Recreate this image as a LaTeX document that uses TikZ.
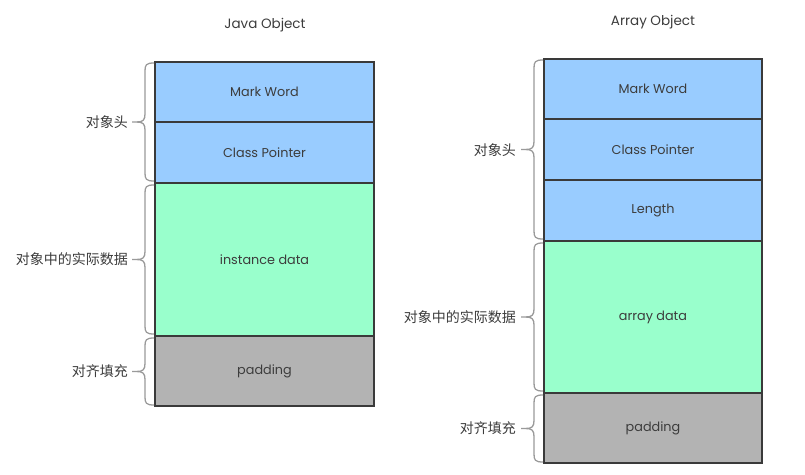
\documentclass[tikz,border=0pt]{standalone}
\usepackage{fontspec}
\setmainfont{Poppins}
\newfontfamily\cjk{Noto Sans CJK SC}
\definecolor{hdrblue}{HTML}{99CCFF}
\definecolor{datagreen}{HTML}{99FFCC}
\definecolor{padgray}{HTML}{B3B3B3}
\definecolor{edgegray}{HTML}{3A3A3A}
\definecolor{txtgray}{HTML}{3C3C3C}
\definecolor{bracegray}{HTML}{9A9A9A}
\newcommand\objbrace[3]{%
  \draw[bracestyle] (#3,#1) .. controls ({#3-8},#1) and ({#3-9},{#1+2}) .. ({#3-9},{#1+8})
     -- ({#3-9},{(#1+#2)/2-8}) .. controls ({#3-9},{(#1+#2)/2-2}) and ({#3-11},{(#1+#2)/2}) .. ({#3-17},{(#1+#2)/2}) -- ({#3-22},{(#1+#2)/2});
  \draw[bracestyle] ({#3-17},{(#1+#2)/2}) .. controls ({#3-11},{(#1+#2)/2}) and ({#3-9},{(#1+#2)/2+2}) .. ({#3-9},{(#1+#2)/2+8})
     -- ({#3-9},{#2-8}) .. controls ({#3-9},{#2-2}) and ({#3-8},#2) .. (#3,#2);}
\begin{document}
\begin{tikzpicture}[x=1pt,y=-1pt,
  cell/.style={draw=edgegray, line width=1.6pt, inner sep=0pt, outer sep=0pt,
    text=txtgray, font=\fontsize{12.8}{14}\selectfont},
  hdr/.style={cell, fill=hdrblue},
  dat/.style={cell, fill=datagreen},
  pad/.style={cell, fill=padgray},
  lbl/.style={anchor=east, text=txtgray, inner sep=0pt, font=\cjk\fontsize{14}{16}\selectfont},
  ttl/.style={text=txtgray, inner sep=0pt, font=\fontsize{13.5}{15}\selectfont},
  bracestyle/.style={draw=bracegray, line width=1.3pt}]
\useasboundingbox (0,0) rectangle (805,474);
% left: Java Object
\node[ttl] (t1) at (265,25) {Java Object};
\node[hdr, minimum width=219pt, minimum height=60pt] (mw1) at (264.5,92) {Mark Word};
\node[hdr, minimum width=219pt, minimum height=61pt] (cp1) at (264.5,152.5) {Class Pointer};
\node[dat, minimum width=219pt, minimum height=153pt] (id1) at (264.5,259.5) {instance data};
\node[pad, minimum width=219pt, minimum height=70pt] (pd1) at (264.5,371) {padding};
\objbrace{63}{181}{154}
\objbrace{185}{334}{154}
\objbrace{338}{405}{154}
\node[lbl] (l1) at (128,122) {对象头};
\node[lbl] (l2) at (128,259.5) {对象中的实际数据};
\node[lbl] (l3) at (128,371) {对齐填充};
% right: Array Object
\node[ttl] (t2) at (653,22) {Array Object};
\node[hdr, minimum width=218pt, minimum height=60pt] (mw2) at (653,89) {Mark Word};
\node[hdr, minimum width=218pt, minimum height=61pt] (cp2) at (653,149.5) {Class Pointer};
\node[hdr, minimum width=218pt, minimum height=61pt] (ln2) at (653,210.5) {Length};
\node[dat, minimum width=218pt, minimum height=152pt] (ad2) at (653,317) {array data};
\node[pad, minimum width=218pt, minimum height=70pt] (pd2) at (653,428) {padding};
\objbrace{60}{239}{543}
\objbrace{243}{391}{543}
\objbrace{395}{462}{543}
\node[lbl] (r1) at (516,150) {对象头};
\node[lbl] (r2) at (516,317) {对象中的实际数据};
\node[lbl] (r3) at (516,428.5) {对齐填充};
\end{tikzpicture}
\end{document}
